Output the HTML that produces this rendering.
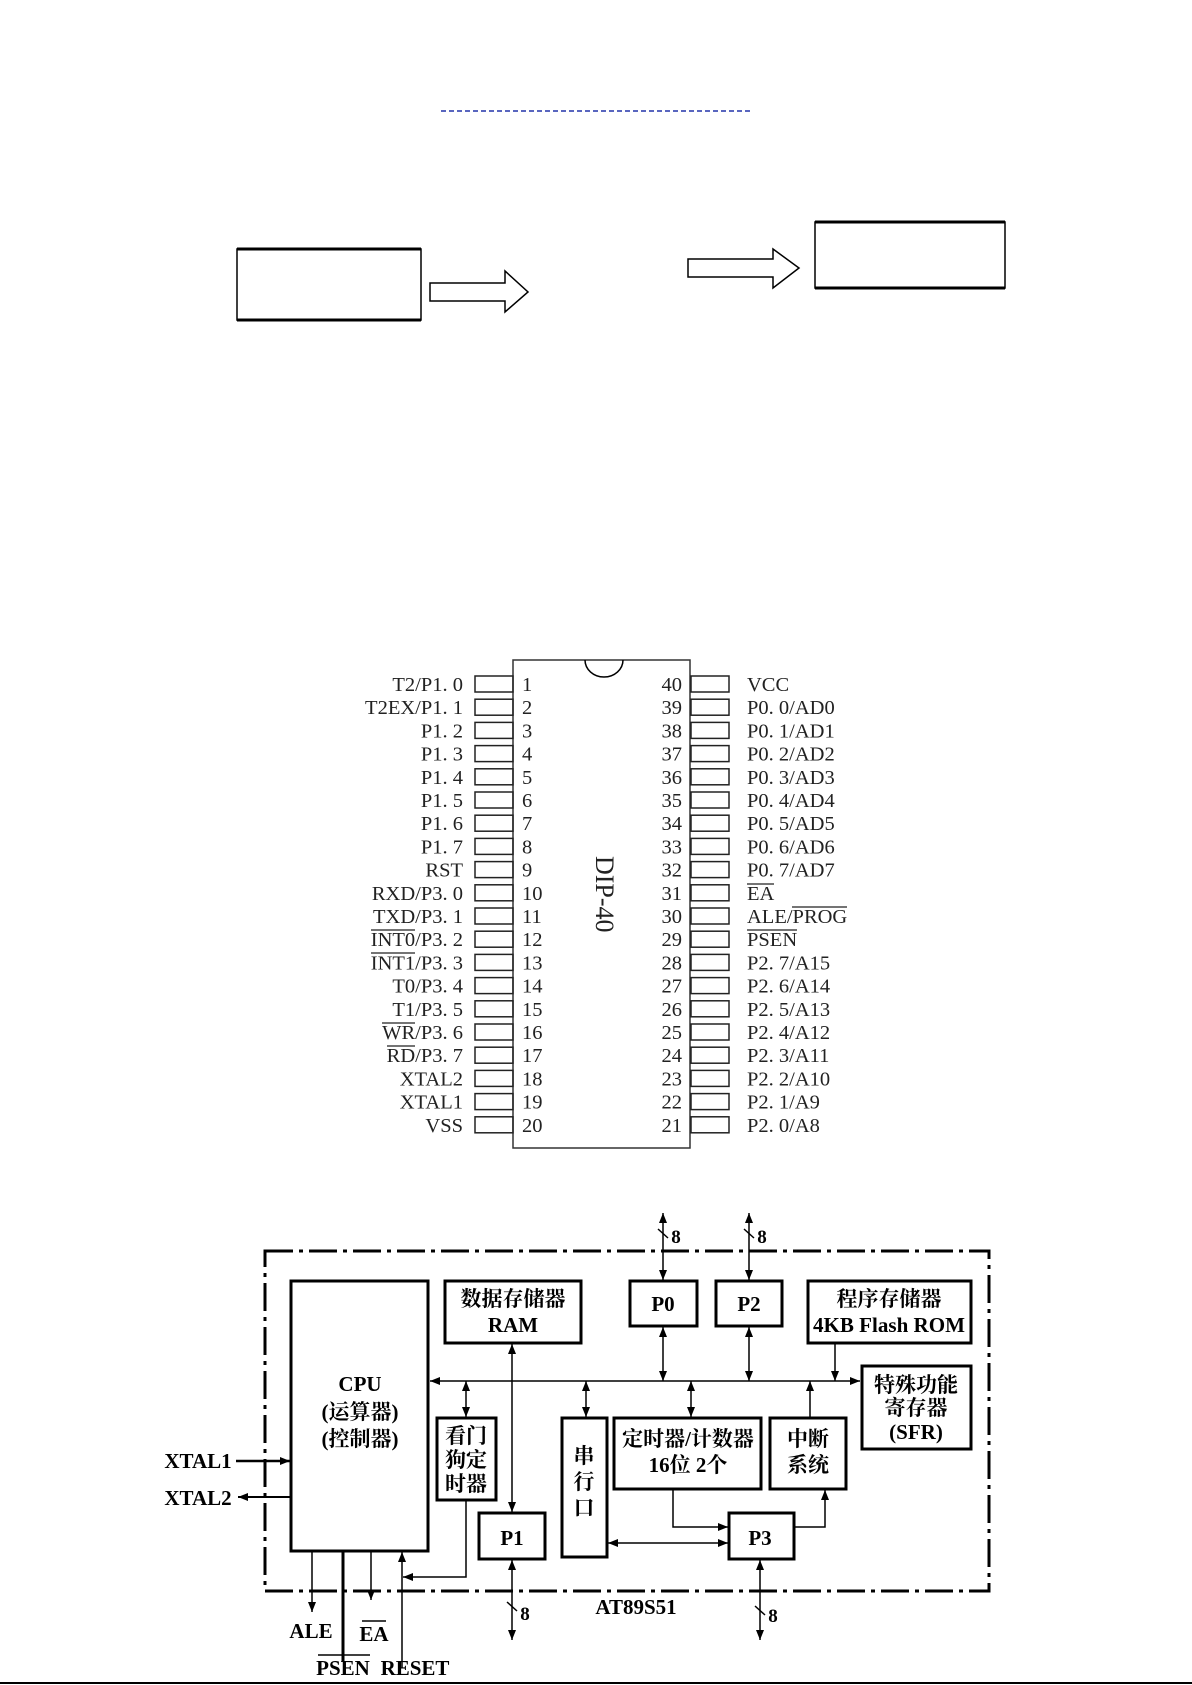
<!DOCTYPE html>
<html><head><meta charset="utf-8"><style>
html,body{margin:0;padding:0;background:#fff;}
svg{display:block;}
.pl{font-family:"Liberation Serif","Noto Serif CJK SC",serif;font-size:20.5px;fill:#222;}
.b{font-family:"Liberation Serif","Noto Serif CJK SC",serif;font-size:21px;font-weight:bold;fill:#000;}
</style></head><body>
<svg width="1192" height="1685" viewBox="0 0 1192 1685" xmlns="http://www.w3.org/2000/svg">
<defs>
<marker id="a" viewBox="0 0 10 10" refX="10" refY="5" markerWidth="10" markerHeight="10" markerUnits="userSpaceOnUse" orient="auto-start-reverse"><path d="M0,1 L10,5 L0,9 z" fill="#000"/></marker>
</defs>
<line x1="441" y1="111" x2="752" y2="111" stroke="#2233aa" stroke-width="1.5" stroke-dasharray="5,3"/>
<rect x="237" y="249" width="184" height="71" fill="none" stroke="#000" stroke-width="1.5"/>
<line x1="237" y1="249" x2="421" y2="249" stroke="#000" stroke-width="3"/>
<line x1="237" y1="320" x2="421" y2="320" stroke="#000" stroke-width="3"/>
<path d="M430,283 L505,283 L505,271 L528,292 L505,312 L505,301 L430,301 z" fill="#fff" stroke="#000" stroke-width="1.5"/>
<path d="M688,259 L773,259 L773,249 L799,268 L773,288 L773,277 L688,277 z" fill="#fff" stroke="#000" stroke-width="1.5"/>
<rect x="815" y="222" width="190" height="66" fill="none" stroke="#000" stroke-width="1.5"/>
<line x1="815" y1="222" x2="1005" y2="222" stroke="#000" stroke-width="3"/>
<line x1="815" y1="288" x2="1005" y2="288" stroke="#000" stroke-width="3"/>

<rect x="513" y="660" width="177" height="488" fill="#fff" stroke="#333" stroke-width="1.5"/>
<path d="M585,660 A19,17 0 0 0 623,660" fill="none" stroke="#000" stroke-width="1.5"/>
<text x="0" y="0" transform="translate(596,856) rotate(90)" style="font-family:'Liberation Serif',serif;font-size:26px;fill:#222;">DIP-40</text>
<g stroke="#222" stroke-width="1.5" fill="none">
<rect x="475" y="676" width="38" height="16"/><rect x="691" y="676" width="38" height="16"/>
<rect x="475" y="699.2" width="38" height="16"/><rect x="691" y="699.2" width="38" height="16"/>
<rect x="475" y="722.4" width="38" height="16"/><rect x="691" y="722.4" width="38" height="16"/>
<rect x="475" y="745.6" width="38" height="16"/><rect x="691" y="745.6" width="38" height="16"/>
<rect x="475" y="768.8" width="38" height="16"/><rect x="691" y="768.8" width="38" height="16"/>
<rect x="475" y="792" width="38" height="16"/><rect x="691" y="792" width="38" height="16"/>
<rect x="475" y="815.2" width="38" height="16"/><rect x="691" y="815.2" width="38" height="16"/>
<rect x="475" y="838.4" width="38" height="16"/><rect x="691" y="838.4" width="38" height="16"/>
<rect x="475" y="861.6" width="38" height="16"/><rect x="691" y="861.6" width="38" height="16"/>
<rect x="475" y="884.8" width="38" height="16"/><rect x="691" y="884.8" width="38" height="16"/>
<rect x="475" y="908" width="38" height="16"/><rect x="691" y="908" width="38" height="16"/>
<rect x="475" y="931.2" width="38" height="16"/><rect x="691" y="931.2" width="38" height="16"/>
<rect x="475" y="954.4" width="38" height="16"/><rect x="691" y="954.4" width="38" height="16"/>
<rect x="475" y="977.6" width="38" height="16"/><rect x="691" y="977.6" width="38" height="16"/>
<rect x="475" y="1000.8" width="38" height="16"/><rect x="691" y="1000.8" width="38" height="16"/>
<rect x="475" y="1024" width="38" height="16"/><rect x="691" y="1024" width="38" height="16"/>
<rect x="475" y="1047.2" width="38" height="16"/><rect x="691" y="1047.2" width="38" height="16"/>
<rect x="475" y="1070.4" width="38" height="16"/><rect x="691" y="1070.4" width="38" height="16"/>
<rect x="475" y="1093.6" width="38" height="16"/><rect x="691" y="1093.6" width="38" height="16"/>
<rect x="475" y="1116.8" width="38" height="16"/><rect x="691" y="1116.8" width="38" height="16"/>
</g>
<g stroke="#222" stroke-width="1.2">
<line x1="371" y1="930" x2="415" y2="930"/>
<line x1="371" y1="953" x2="415" y2="953"/>
<line x1="382" y1="1023" x2="415" y2="1023"/>
<line x1="387" y1="1046" x2="415" y2="1046"/>
<line x1="747" y1="884" x2="774" y2="884"/>
<line x1="792" y1="907" x2="847" y2="907"/>
<line x1="747" y1="930" x2="797" y2="930"/>
</g>
<g class="pl" text-anchor="end">
<text x="463" y="691">T2/P1. 0</text>
<text x="463" y="714.2">T2EX/P1. 1</text>
<text x="463" y="737.4">P1. 2</text>
<text x="463" y="760.6">P1. 3</text>
<text x="463" y="783.8">P1. 4</text>
<text x="463" y="807">P1. 5</text>
<text x="463" y="830.2">P1. 6</text>
<text x="463" y="853.4">P1. 7</text>
<text x="463" y="876.6">RST</text>
<text x="463" y="899.8">RXD/P3. 0</text>
<text x="463" y="923">TXD/P3. 1</text>
<text x="463" y="946.2">INT0/P3. 2</text>
<text x="463" y="969.4">INT1/P3. 3</text>
<text x="463" y="992.6">T0/P3. 4</text>
<text x="463" y="1015.8">T1/P3. 5</text>
<text x="463" y="1039">WR/P3. 6</text>
<text x="463" y="1062.2">RD/P3. 7</text>
<text x="463" y="1085.4">XTAL2</text>
<text x="463" y="1108.6">XTAL1</text>
<text x="463" y="1131.8">VSS</text>
<text x="682" y="691">40</text>
<text x="682" y="714.2">39</text>
<text x="682" y="737.4">38</text>
<text x="682" y="760.6">37</text>
<text x="682" y="783.8">36</text>
<text x="682" y="807">35</text>
<text x="682" y="830.2">34</text>
<text x="682" y="853.4">33</text>
<text x="682" y="876.6">32</text>
<text x="682" y="899.8">31</text>
<text x="682" y="923">30</text>
<text x="682" y="946.2">29</text>
<text x="682" y="969.4">28</text>
<text x="682" y="992.6">27</text>
<text x="682" y="1015.8">26</text>
<text x="682" y="1039">25</text>
<text x="682" y="1062.2">24</text>
<text x="682" y="1085.4">23</text>
<text x="682" y="1108.6">22</text>
<text x="682" y="1131.8">21</text>
</g>
<g class="pl">
<text x="522" y="691">1</text>
<text x="522" y="714.2">2</text>
<text x="522" y="737.4">3</text>
<text x="522" y="760.6">4</text>
<text x="522" y="783.8">5</text>
<text x="522" y="807">6</text>
<text x="522" y="830.2">7</text>
<text x="522" y="853.4">8</text>
<text x="522" y="876.6">9</text>
<text x="522" y="899.8">10</text>
<text x="522" y="923">11</text>
<text x="522" y="946.2">12</text>
<text x="522" y="969.4">13</text>
<text x="522" y="992.6">14</text>
<text x="522" y="1015.8">15</text>
<text x="522" y="1039">16</text>
<text x="522" y="1062.2">17</text>
<text x="522" y="1085.4">18</text>
<text x="522" y="1108.6">19</text>
<text x="522" y="1131.8">20</text>
<text x="747" y="691">VCC</text>
<text x="747" y="714.2">P0. 0/AD0</text>
<text x="747" y="737.4">P0. 1/AD1</text>
<text x="747" y="760.6">P0. 2/AD2</text>
<text x="747" y="783.8">P0. 3/AD3</text>
<text x="747" y="807">P0. 4/AD4</text>
<text x="747" y="830.2">P0. 5/AD5</text>
<text x="747" y="853.4">P0. 6/AD6</text>
<text x="747" y="876.6">P0. 7/AD7</text>
<text x="747" y="899.8">EA</text>
<text x="747" y="923">ALE/PROG</text>
<text x="747" y="946.2">PSEN</text>
<text x="747" y="969.4">P2. 7/A15</text>
<text x="747" y="992.6">P2. 6/A14</text>
<text x="747" y="1015.8">P2. 5/A13</text>
<text x="747" y="1039">P2. 4/A12</text>
<text x="747" y="1062.2">P2. 3/A11</text>
<text x="747" y="1085.4">P2. 2/A10</text>
<text x="747" y="1108.6">P2. 1/A9</text>
<text x="747" y="1131.8">P2. 0/A8</text>
</g>

<g fill="none" stroke="#000" stroke-width="3">
<rect x="265" y="1251" width="724" height="340" stroke-dasharray="28,6,4,6"/>
<rect x="291" y="1281" width="137" height="270"/>
<rect x="445" y="1281" width="136" height="62"/>
<rect x="630" y="1281" width="67" height="45"/>
<rect x="716" y="1281" width="66" height="45"/>
<rect x="808" y="1281" width="163" height="62"/>
<rect x="862" y="1366" width="109" height="83"/>
<rect x="437" y="1418" width="59" height="82"/>
<rect x="562" y="1418" width="45" height="139"/>
<rect x="614" y="1418" width="147" height="71"/>
<rect x="770" y="1418" width="76" height="71"/>
<rect x="479" y="1513" width="66" height="46"/>
<rect x="729" y="1513" width="65" height="46"/>
</g>
<g fill="none" stroke="#000" stroke-width="1.5">
<line x1="430" y1="1381" x2="860" y2="1381" marker-start="url(#a)" marker-end="url(#a)"/>
<line x1="512" y1="1344" x2="512" y2="1512" marker-start="url(#a)" marker-end="url(#a)"/>
<line x1="663" y1="1327" x2="663" y2="1381" marker-start="url(#a)" marker-end="url(#a)"/>
<line x1="749" y1="1327" x2="749" y2="1381" marker-start="url(#a)" marker-end="url(#a)"/>
<line x1="663" y1="1213" x2="663" y2="1280" marker-start="url(#a)" marker-end="url(#a)"/>
<line x1="749" y1="1213" x2="749" y2="1280" marker-start="url(#a)" marker-end="url(#a)"/>
<line x1="466" y1="1381" x2="466" y2="1417" marker-start="url(#a)" marker-end="url(#a)"/>
<line x1="586" y1="1381" x2="586" y2="1417" marker-start="url(#a)" marker-end="url(#a)"/>
<line x1="691" y1="1381" x2="691" y2="1417" marker-start="url(#a)" marker-end="url(#a)"/>
<line x1="810" y1="1417" x2="810" y2="1381" marker-end="url(#a)"/>
<line x1="835" y1="1344" x2="835" y2="1381" marker-end="url(#a)"/>
<polyline points="673,1490 673,1527 728,1527" marker-end="url(#a)"/>
<polyline points="795,1527 825,1527 825,1490" marker-end="url(#a)"/>
<line x1="608" y1="1543" x2="728" y2="1543" marker-start="url(#a)" marker-end="url(#a)"/>
<polyline points="466,1501 466,1577 403,1577" marker-end="url(#a)"/>
<line x1="312" y1="1552" x2="312" y2="1612" marker-end="url(#a)"/>
<line x1="343" y1="1552" x2="343" y2="1662" stroke-width="3"/>
<line x1="371" y1="1552" x2="371" y2="1600" marker-end="url(#a)"/>
<line x1="402" y1="1668" x2="402" y2="1552" marker-end="url(#a)"/>
<line x1="236" y1="1461" x2="290" y2="1461" stroke-width="2.5" marker-end="url(#a)"/>
<line x1="290" y1="1497" x2="238" y2="1497" stroke-width="2" marker-end="url(#a)"/>
<line x1="512" y1="1560" x2="512" y2="1640" marker-start="url(#a)" marker-end="url(#a)"/>
<line x1="760" y1="1560" x2="760" y2="1640" marker-start="url(#a)" marker-end="url(#a)"/>
<line x1="658" y1="1229" x2="668" y2="1238"/>
<line x1="744" y1="1229" x2="754" y2="1238"/>
<line x1="507" y1="1602" x2="517" y2="1611"/>
<line x1="755" y1="1606" x2="765" y2="1615"/>
</g>
<line x1="0" y1="1683" x2="1192" y2="1683" stroke="#000" stroke-width="2"/>
<g class="b" text-anchor="middle">
<text x="676" y="1243" font-size="19">8</text>
<text x="762" y="1243" font-size="19">8</text>
<text x="525" y="1620" font-size="19">8</text>
<text x="773" y="1622" font-size="19">8</text>
<text x="513" y="1306">数据存储器</text>
<text x="513" y="1332">RAM</text>
<text x="663" y="1311">P0</text>
<text x="749" y="1311">P2</text>
<text x="889" y="1306">程序存储器</text>
<text x="889" y="1332" textLength="152" lengthAdjust="spacingAndGlyphs">4KB Flash ROM</text>
<text x="916" y="1392">特殊功能</text>
<text x="916" y="1415">寄存器</text>
<text x="916" y="1439">(SFR)</text>
<text x="360" y="1391">CPU</text>
<text x="360" y="1419">(运算器)</text>
<text x="360" y="1446">(控制器)</text>
<text x="466" y="1443">看门</text>
<text x="466" y="1467">狗定</text>
<text x="466" y="1491">时器</text>
<text x="584" y="1463">串</text>
<text x="584" y="1489">行</text>
<text x="584" y="1515">口</text>
<text x="688" y="1446">定时器/计数器</text>
<text x="688" y="1472">16位  2个</text>
<text x="808" y="1446">中断</text>
<text x="808" y="1472">系统</text>
<text x="512" y="1545">P1</text>
<text x="760" y="1545">P3</text>
<text x="636" y="1614">AT89S51</text>
<text x="198" y="1468">XTAL1</text>
<text x="198" y="1505">XTAL2</text>
<text x="311" y="1638">ALE</text>
<text x="374" y="1641">EA</text>
<text x="343" y="1675">PSEN</text>
<text x="415" y="1675">RESET</text>
</g>
<line x1="362" y1="1621" x2="386" y2="1621" stroke="#000" stroke-width="1.5"/>
<line x1="318" y1="1655" x2="370" y2="1655" stroke="#000" stroke-width="1.5"/>
</svg>
</body></html>
